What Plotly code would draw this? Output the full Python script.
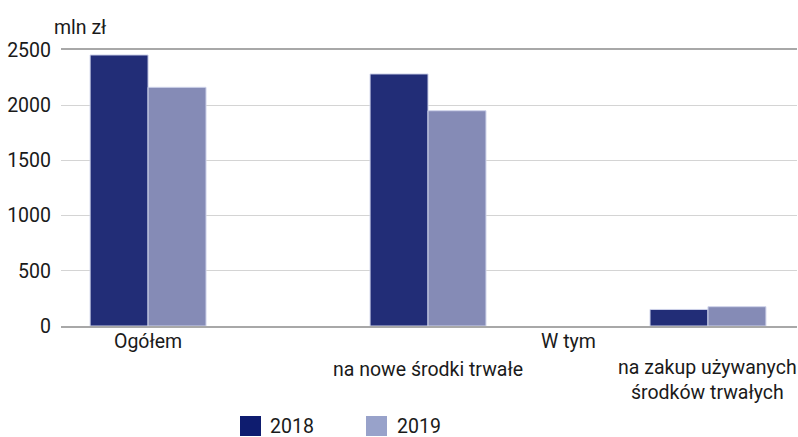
import plotly.graph_objects as go

categories = ["Ogółem", "na nowe środki trwałe", "na zakup używanych<br>środków trwałych"]
values_2018 = [2455, 2283, 150]
values_2019 = [2162, 1950, 175]
y_ticks = [0, 500, 1000, 1500, 2000, 2500]
series_names = ["2018", "2019"]

FONT = "Roboto, Liberation Sans Narrow, DejaVu Sans Condensed, sans-serif"
FS = 19.5
C2018 = "#222d77"
C2019 = "#858bb6"
L2018 = "#0e1c6f"
L2019 = "#98a2ca"
TXT = "#1a1a1a"

W, H = 798, 437
ML, MR, MT, MB = 61, 1, 50, 111
PW = W - ML - MR
PH = H - MT - MB

def py(pix):
    return (H - MB - pix) / PH

def px(pix):
    return (pix - ML) / PW

fig = go.Figure()
fig.add_trace(go.Bar(x=list(range(len(categories))), y=values_2018, name=series_names[0],
                     marker=dict(color=C2018, line=dict(color="#cfd3ea", width=1))))
fig.add_trace(go.Bar(x=list(range(len(categories))), y=values_2019, name=series_names[1],
                     marker=dict(color=C2019, line=dict(color="#cfd3ea", width=1))))

ann = []
label_lines = [py(341), py(369), py(380.5)]
for i, cat in enumerate(categories):
    ann.append(dict(x=i, xref="x", y=label_lines[i], yref="paper", text=cat,
                    showarrow=False, xanchor="center", yanchor="middle",
                    font=dict(family=FONT, size=FS, color=TXT)))
ann.append(dict(x=1.5, xref="x", y=py(341), yref="paper", text="W tym",
                showarrow=False, xanchor="center", yanchor="middle",
                font=dict(family=FONT, size=FS, color=TXT)))
ann.append(dict(x=px(52), xref="paper", y=py(27), yref="paper", text="mln zł",
                showarrow=False, xanchor="left", yanchor="middle",
                font=dict(family=FONT, size=FS, color=TXT)))

shapes = []
for name, col, sx, tx in [(series_names[0], L2018, 240, 268), (series_names[1], L2019, 366, 395)]:
    shapes.append(dict(type="rect", xref="paper", yref="paper",
                       x0=px(sx), x1=px(sx + 21), y0=py(416), y1=py(436),
                       fillcolor=col, line=dict(width=0)))
    ann.append(dict(x=px(tx), xref="paper", y=py(426), yref="paper", text=name,
                    showarrow=False, xanchor="left", yanchor="middle",
                    font=dict(family=FONT, size=FS, color=TXT)))

fig.update_layout(
    width=W, height=H,
    margin=dict(l=ML, r=MR, t=MT, b=MB),
    paper_bgcolor="white", plot_bgcolor="white",
    barmode="group", bargap=0.586, bargroupgap=0,
    showlegend=False,
    annotations=ann, shapes=shapes,
    font=dict(family=FONT, size=FS, color=TXT),
    xaxis=dict(range=[-0.311, 2.318], showticklabels=False, showgrid=False,
               showline=True, mirror=True, linecolor="#a8a8a8", linewidth=1.5,
               zeroline=False, fixedrange=True),
    yaxis=dict(range=[0, 2500], tickvals=y_ticks, showgrid=True, gridcolor="#d4d4d4",
               gridwidth=1.2, zeroline=False, showline=False, ticks="",
               ticklabelstandoff=9, tickfont=dict(family=FONT, size=FS, color=TXT)),
)

fig.write_html("out.html", config={"displayModeBar": False},
               post_script="document.body.style.margin='0px';")
